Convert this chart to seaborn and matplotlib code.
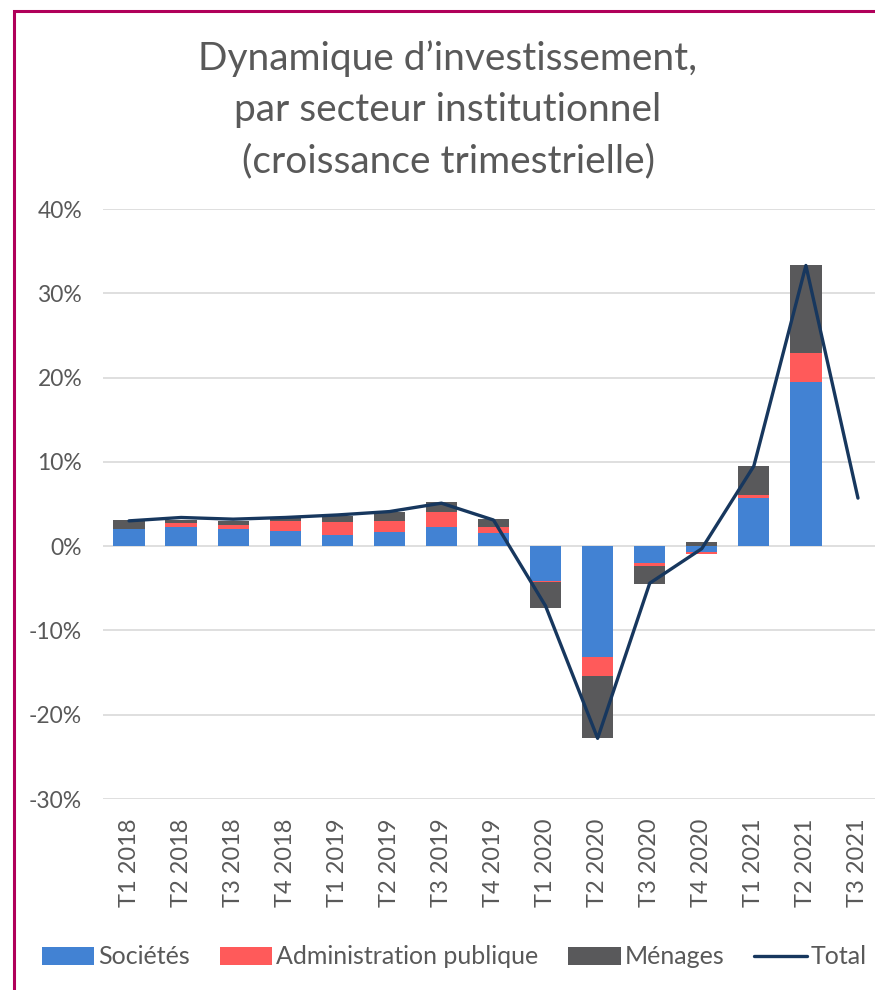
import numpy as np
import pandas as pd
import matplotlib
matplotlib.use("Agg")
import matplotlib.pyplot as plt
import seaborn as sns
from matplotlib.patches import Patch, Rectangle
from matplotlib.lines import Line2D
from matplotlib.ticker import FuncFormatter, MultipleLocator

sns.set_style("white")
plt.rcParams['font.family'] = ['Lato', 'DejaVu Sans']

# données (croissance trimestrielle, en %)
trimestres = ['T1 2018', 'T2 2018', 'T3 2018', 'T4 2018',
              'T1 2019', 'T2 2019', 'T3 2019', 'T4 2019',
              'T1 2020', 'T2 2020', 'T3 2020', 'T4 2020',
              'T1 2021', 'T2 2021', 'T3 2021']
societes = [2.0, 2.25, 2.0, 1.8, 1.3, 1.7, 2.25, 1.6, -4.1, -13.2, -2.0, -0.65, 5.75, 19.5, np.nan]
admin = [0.05, 0.5, 0.45, 1.15, 1.6, 1.25, 1.8, 0.7, -0.1, -2.2, -0.4, -0.25, 0.3, 3.4, np.nan]
menages = [1.1, 0.35, 0.5, 0.35, 0.65, 1.1, 1.15, 0.95, -3.1, -7.4, -2.1, 0.5, 3.5, 10.5, np.nan]
total = [3.0, 3.4, 3.2, 3.4, 3.7, 4.1, 5.1, 3.1, -7.1, -22.8, -4.4, -0.3, 9.5, 33.3, 5.7]

series = [('Sociétés', societes, '#4282D3'),
          ('Administration publique', admin, '#FF5A5A'),
          ('Ménages', menages, '#59595B')]

# empilement à la Excel : positifs et négatifs séparément
pos = np.zeros(len(trimestres))
neg = np.zeros(len(trimestres))
ends = []
for nom, vals, col in series:
    v = np.array(vals, dtype=float)
    fin = np.where(v >= 0, pos + v, neg + v)
    fin[np.isnan(v)] = np.nan
    pos = np.where(v >= 0, fin, pos)
    neg = np.where(v < 0, fin, neg)
    ends.append((nom, fin, col))

fig = plt.figure(figsize=(8.75, 9.9), dpi=100)
ax = fig.add_axes([103/875, 1-799/990, 781/875, 590/990])

# on dessine du plus éloigné au plus proche de zéro
for nom, fin, col in reversed(ends):
    df = pd.DataFrame({'trimestre': trimestres, 'valeur': fin})
    sns.barplot(data=df, x='trimestre', y='valeur', order=trimestres, color=col,
                saturation=1, width=0.6, errorbar=None, linewidth=0, ax=ax)

sns.lineplot(x=np.arange(len(trimestres)), y=total, color='#17375E', linewidth=2.4, ax=ax)

ax.set_xlim(-0.5, len(trimestres) - 0.5)
ax.set_ylim(-30, 40)
ax.yaxis.set_major_locator(MultipleLocator(10))
ax.yaxis.set_major_formatter(FuncFormatter(lambda v, p: '{:.0f}%'.format(v)))
ax.yaxis.grid(True, color='#D9D9D9', linewidth=1.2)
ax.set_axisbelow(True)
ax.set_xticks(range(len(trimestres)))
ax.set_xticklabels(trimestres, rotation=90)
ax.set_xlabel('')
ax.set_ylabel('')
for s in ax.spines.values():
    s.set_visible(False)
ax.tick_params(axis='y', length=0, pad=15, labelsize=16.5, labelcolor='#595959')
ax.tick_params(axis='x', length=0, pad=14, labelsize=17, labelcolor='#595959')

fig.text(0.512, 1-110/990, 'Dynamique d’investissement,\npar secteur institutionnel\n(croissance trimestrielle)',
         ha='center', va='center', fontsize=28, color='#595959', linespacing=1.53)

handles = [Patch(facecolor=c, edgecolor='none') for _, _, c in series]
handles.append(Line2D([0], [0], color='#17375E', linewidth=2.4))
labels = [n for n, _, _ in series] + ['Total']
fig.legend(handles, labels, loc='center', bbox_to_anchor=(454/875, 1-957/990), ncol=4,
           frameon=False, fontsize=18, labelcolor='#595959', handlelength=2.1,
           handleheight=0.75, handletextpad=0.15, columnspacing=1.2)

# cadre du graphique (coupé à droite et en bas)
fig.patches.append(Rectangle((14/875, -0.05), 1.2, 1-11/990+0.05, transform=fig.transFigure,
                             fill=False, edgecolor='#B0005A', linewidth=2.2))

fig.savefig('out.png', dpi=100)
